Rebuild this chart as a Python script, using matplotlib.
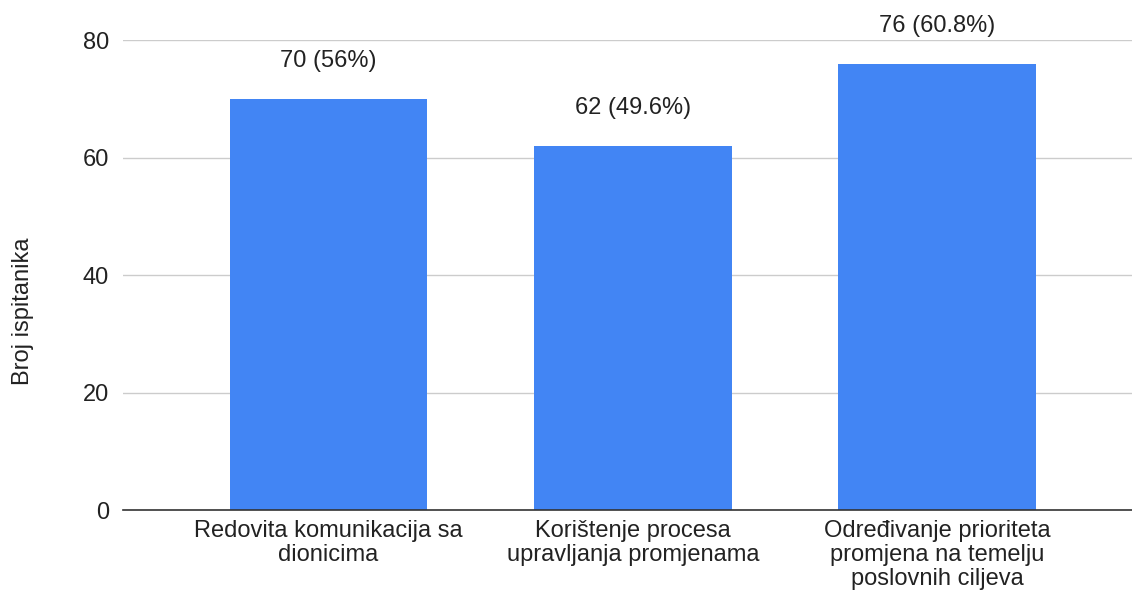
import matplotlib.pyplot as plt
import numpy as np

plt.rcParams['font.family'] = ['Liberation Sans', 'DejaVu Sans']

categories = ['Redovita komunikacija sa\ndionicima',
              'Korištenje procesa\nupravljanja promjenama',
              'Određivanje prioriteta\npromjena na temelju\nposlovnih ciljeva']
values = [70, 62, 76]
labels = ['70 (56%)', '62 (49.6%)', '76 (60.8%)']
yticks = [0, 20, 40, 60, 80]

fig = plt.figure(figsize=(11.32, 5.92), dpi=100)
ax = fig.add_axes([0.1087, 0.1385, 0.8913, 0.7939])

x = np.arange(len(categories))
ax.bar(x, values, width=0.65, color='#4285F4', zorder=2)
for xi, v, lab in zip(x, values, labels):
    ax.text(xi, v + 6.4, lab, ha='center', va='center', fontsize=17,
            color='#222222', clip_on=False)

ax.set_xlim(-0.675, 2.64)
ax.set_ylim(0, 80)
ax.set_yticks(yticks)
ax.set_yticklabels([str(t) for t in yticks], fontsize=17, color='#222222')
ax.set_xticks(x)
ax.set_xticklabels(categories, fontsize=17, color='#222222', linespacing=1.12)
ax.tick_params(axis='x', length=0, pad=7)
ax.tick_params(axis='y', length=0, pad=10)
ax.grid(axis='y', color='#cccccc', lw=1, zorder=0)
for s in ['top', 'right', 'left']:
    ax.spines[s].set_visible(False)
ax.spines['bottom'].set_color('#333333')
ax.spines['bottom'].set_linewidth(1.2)
ax.set_ylabel('Broj ispitanika', fontsize=17, color='#222222')
ax.yaxis.set_label_coords(-0.088, 0.423)

fig.savefig('out.png', dpi=100)
